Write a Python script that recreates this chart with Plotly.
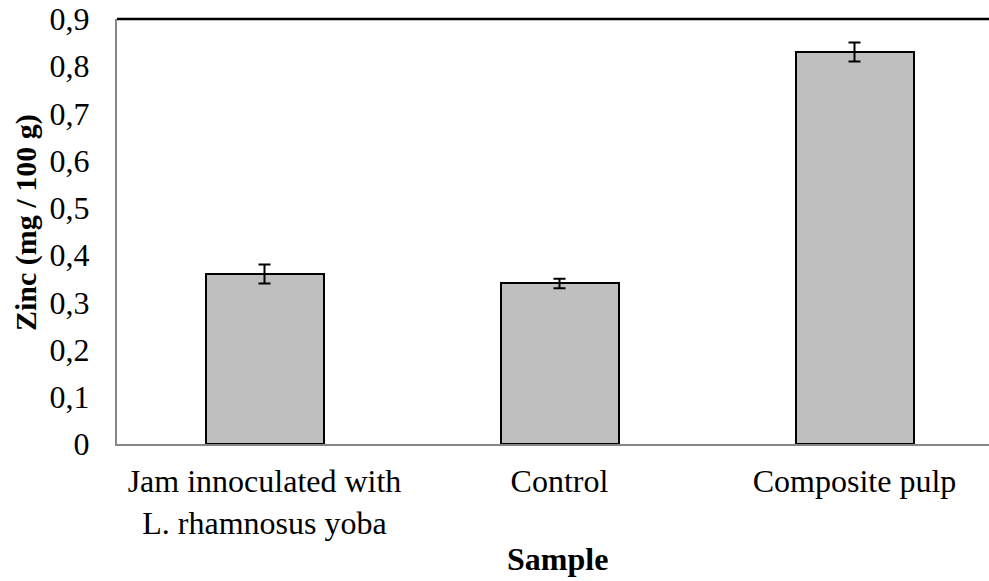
import plotly.graph_objects as go

# Zinc content per sample, mg / 100 g
categories = ["Jam innoculated with<br>L. rhamnosus yoba", "Control", "Composite pulp"]
zinc = [0.36, 0.34, 0.83]
zinc_err = [0.02, 0.01, 0.02]
y_ticks = [0, 0.1, 0.2, 0.3, 0.4, 0.5, 0.6, 0.7, 0.8, 0.9]

W, H = 989, 581
L, R, T, B = 117, 0, 19, 137
plot_w = W - L - R
plot_h = H - T - B
serif = "Liberation Serif, Times New Roman, serif"
FS = 32

x_pos = list(range(len(categories)))

fig = go.Figure()
fig.add_trace(go.Bar(
    x=x_pos,
    y=zinc,
    width=0.4,
    marker=dict(color="#BFBFBF", line=dict(color="black", width=2)),
    error_y=dict(type="data", array=zinc_err, visible=True,
                 color="black", thickness=2, width=6),
    showlegend=False,
))

# top border line along 0.9
fig.add_shape(type="line", xref="paper", yref="paper", x0=0, x1=1, y0=1, y1=1,
              line=dict(color="black", width=2.5))

fig.update_layout(
    width=W, height=H,
    margin=dict(l=L, r=R, t=T, b=B, pad=0),
    paper_bgcolor="white", plot_bgcolor="white",
    separators=", ",
    font=dict(family=serif, size=FS, color="black"),
    bargap=0,
    annotations=[
        dict(text="<b>Zinc (mg / 100 g)</b>", xref="paper", yref="paper",
             x=(26 - L) / plot_w, y=(H - B - 223) / plot_h,
             xanchor="center", yanchor="middle",
             textangle=-90, showarrow=False, font=dict(size=30)),
        dict(text="<b>Sample</b>", xref="paper", yref="paper",
             x=(557 - L) / plot_w, y=-(559 - (H - B)) / plot_h,
             xanchor="center", yanchor="middle", showarrow=False, font=dict(size=FS)),
    ],
)

fig.update_xaxes(
    range=[-0.5, -0.5 + plot_w / 295.0],
    tickmode="array", tickvals=x_pos, ticktext=categories,
    showline=True, linecolor="#868686", linewidth=2,
    showgrid=False, zeroline=False,
    ticks="outside", ticklen=8, tickcolor="rgba(0,0,0,0)",
    tickfont=dict(size=FS),
)
fig.update_yaxes(
    range=[0, 0.9],
    tickmode="array", tickvals=y_ticks,
    showline=True, linecolor="#868686", linewidth=2,
    showgrid=False, zeroline=False,
    ticks="outside", ticklen=19, tickcolor="rgba(0,0,0,0)",
    tickfont=dict(size=FS),
)

fig.write_html("out.html")
